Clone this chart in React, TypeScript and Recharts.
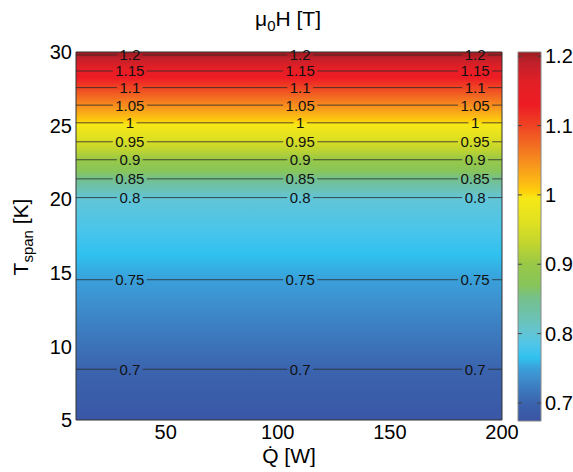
import React from "react";
import {
  ComposedChart,
  XAxis,
  YAxis,
  ReferenceArea,
  ReferenceLine,
  ReferenceDot,
} from "recharts";

// contour levels of mu0H [T] and the Tspan [K] where each line sits
const levels = [0.7, 0.75, 0.8, 0.85, 0.9, 0.95, 1, 1.05, 1.1, 1.15, 1.2];
const levelLabels = ["0.7", "0.75", "0.8", "0.85", "0.9", "0.95", "1", "1.05", "1.1", "1.15", "1.2"];
const levelTspan = [8.45, 14.53, 20.11, 21.38, 22.68, 23.9, 25.19, 26.39, 27.58, 28.71, 29.8];
const labelQ = [34, 110, 188]; // Q [W] where the inline labels sit

const fieldBottom = 0.68; // value at Tspan = 5
const fieldTop = 1.205; // value at Tspan = 30

const qTicks = [50, 100, 150, 200];
const tTicks = [5, 10, 15, 20, 25, 30];
const barTicks = [0.7, 0.8, 0.9, 1, 1.1, 1.2];
const barMin = 0.674;
const barMax = 1.206;

// colormap
const cmapValues = [0.674, 0.7, 0.72, 0.735, 0.75, 0.765, 0.78, 0.8, 0.82, 0.85, 0.87, 0.9, 0.93, 0.96, 0.995, 1.005, 1.015, 1.04, 1.07, 1.1, 1.13, 1.16, 1.19, 1.206];
const cmapColors = ["#3a53a3", "#3b64ae", "#3c7abe", "#3d8dcb", "#3aa0da", "#2fc1ef", "#49c5eb", "#62c5d6", "#6bc2b6", "#74c08d", "#88c55a", "#98c847", "#c2d52e", "#e0e021", "#f6e816", "#fecf0b", "#fcbf12", "#f89a1c", "#f36f21", "#ef4323", "#ed1c24", "#e41f26", "#c1202a", "#9b1b1f"];

const FONT = "'Liberation Sans', Arial, sans-serif";

const hexToRgb = (h: string) => [1, 3, 5].map((i) => parseInt(h.slice(i, i + 2), 16));
function colorAt(v: number) {
  if (v <= cmapValues[0]) return cmapColors[0];
  for (let i = 1; i < cmapValues.length; i++) {
    if (v <= cmapValues[i]) {
      const f = (v - cmapValues[i - 1]) / (cmapValues[i] - cmapValues[i - 1]);
      const a = hexToRgb(cmapColors[i - 1]);
      const b = hexToRgb(cmapColors[i]);
      const c = a.map((x, k) => Math.round(x + (b[k] - x) * f));
      return `rgb(${c[0]},${c[1]},${c[2]})`;
    }
  }
  return cmapColors[cmapColors.length - 1];
}

// field value -> Tspan, piecewise through the contour lines
const knotV = [fieldBottom, ...levels, fieldTop];
const knotT = [5, ...levelTspan, 30];
function valueToT(v: number) {
  for (let i = 1; i < knotV.length; i++) {
    if (v <= knotV[i]) {
      const f = (v - knotV[i - 1]) / (knotV[i] - knotV[i - 1]);
      return knotT[i - 1] + f * (knotT[i] - knotT[i - 1]);
    }
  }
  return 30;
}

const fieldStops = [fieldTop, ...cmapValues.filter((v) => v > fieldBottom && v < fieldTop).reverse(), fieldBottom];

const labelPoints = levels.flatMap((lv, i) =>
  labelQ.map((q) => ({ q, t: levelTspan[i], text: levelLabels[i], color: colorAt(lv) }))
);

function textWidth(s: string) {
  return s.split("").reduce((w, ch) => w + (ch === "." ? 4.2 : 8.3), 0);
}

export default function App() {
  return (
    <div style={{ position: "absolute", left: 0, top: 0, width: 573, height: 472, background: "#fff" }}>
      {/* contour plot */}
      <div style={{ position: "absolute", left: 0, top: 0 }}>
        <ComposedChart width={573} height={472} data={labelPoints} margin={{ top: 52, right: 71, bottom: 22, left: 20 }}>
          <defs>
            <linearGradient id="fieldGrad" x1="0" y1="0" x2="0" y2="1">
              {fieldStops.map((v, i) => (
                <stop key={i} offset={(30 - valueToT(v)) / 25} stopColor={colorAt(v)} />
              ))}
            </linearGradient>
          </defs>
          <XAxis
            type="number"
            dataKey="q"
            domain={[10, 200]}
            ticks={qTicks}
            allowDataOverflow
            axisLine={false}
            tickLine={false}
            tickSize={3}
            tickMargin={2}
            height={30}
            tick={{ fontSize: 20, fill: "#000", fontFamily: FONT }}
          />
          <YAxis
            type="number"
            dataKey="t"
            domain={[5, 30]}
            ticks={tTicks}
            allowDataOverflow
            axisLine={false}
            tickLine={false}
            tickSize={2}
            tickMargin={2}
            width={56}
            tick={{ fontSize: 20, fill: "#000", fontFamily: FONT }}
          />
          <ReferenceArea x1={10} x2={200} y1={5} y2={30} fill="url(#fieldGrad)" fillOpacity={1} stroke="none" />
          {levelTspan.map((t, i) => (
            <ReferenceLine key={"l" + i} y={t} stroke="#2a2a2a" strokeWidth={0.8} />
          ))}
          {labelPoints.map((p, i) => (
            <ReferenceDot
              key={"d" + i}
              x={p.q}
              y={p.t}
              ifOverflow="hidden"
              shape={(props: any) => {
                const w = textWidth(p.text) + 5;
                return (
                  <g>
                    <rect x={props.cx - w / 2} y={props.cy - 1.5} width={w} height={3} fill={p.color} />
                    <text x={props.cx} y={props.cy + 5.5} textAnchor="middle" fontSize={15} fontFamily={FONT} fill="#111">
                      {p.text}
                    </text>
                  </g>
                );
              }}
            />
          ))}
          <ReferenceArea x1={10} x2={200} y1={5} y2={30} fill="none" stroke="#333" strokeWidth={1} />
        </ComposedChart>
      </div>

      {/* colorbar */}
      <div style={{ position: "absolute", left: 0, top: 0 }}>
        <ComposedChart width={573} height={472} data={[{ x: 0, v: barMin }, { x: 1, v: barMax }]} margin={{ top: 52, right: 0, bottom: 51, left: 518 }}>
          <defs>
            <linearGradient id="barGrad" x1="0" y1="0" x2="0" y2="1">
              {[...cmapValues].reverse().map((v, i) => (
                <stop key={i} offset={(barMax - v) / (barMax - barMin)} stopColor={cmapColors[cmapValues.indexOf(v)]} />
              ))}
            </linearGradient>
          </defs>
          <XAxis type="number" dataKey="x" domain={[0, 1]} hide />
          <YAxis
            type="number"
            dataKey="v"
            orientation="right"
            domain={[barMin, barMax]}
            ticks={barTicks}
            allowDataOverflow
            axisLine={false}
            tickLine={false}
            tickSize={2}
            tickMargin={2}
            width={32}
            tick={{ fontSize: 20, fill: "#000", fontFamily: FONT, textAnchor: "start" }}
          />
          <ReferenceArea x1={0} x2={1} y1={barMin} y2={barMax} fill="url(#barGrad)" fillOpacity={1} stroke="#888" />
          {barTicks.map((v) => (
            <ReferenceLine key={"a" + v} segment={[{ x: 0, y: v }, { x: 0.17, y: v }]} stroke="#444" />
          ))}
          {barTicks.map((v) => (
            <ReferenceLine key={"b" + v} segment={[{ x: 0.83, y: v }, { x: 1, y: v }]} stroke="#444" />
          ))}
        </ComposedChart>
      </div>

      {/* titles */}
      <svg width={573} height={472} style={{ position: "absolute", left: 0, top: 0, pointerEvents: "none" }}>
        <text x={288} y={26} textAnchor="middle" fontSize={21} fontFamily={FONT} fill="#000">
          μ<tspan dy={5} fontSize={15}>0</tspan>
          <tspan dy={-5}>H [T]</tspan>
        </text>
        <text transform="translate(28,237) rotate(-90)" textAnchor="middle" fontSize={21} fontFamily={FONT} fill="#000">
          T<tspan dy={5} fontSize={15}>span</tspan>
          <tspan dy={-5}> [K]</tspan>
        </text>
        <text x={289} y={463} textAnchor="middle" fontSize={21} fontFamily={FONT} fill="#000">
          {"Q\u0307 [W]"}
        </text>
      </svg>
    </div>
  );
}
